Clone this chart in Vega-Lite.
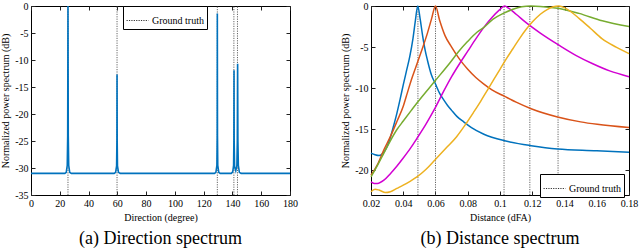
{
  "$schema": "https://vega.github.io/schema/vega-lite/v6.json",
  "padding": 0,
  "spacing": 42,
  "resolve": {"legend": {"strokeDash": "independent"}},
  "config": {
    "font": "Liberation Serif, Times New Roman, serif",
    "view": {"stroke": "black", "strokeWidth": 1},
    "axis": {"domain": false, "grid": false, "tickColor": "#222", "tickSize": -4, "labelPadding": 7, "labelFontSize": 10, "labelColor": "black", "labelFlush": false, "titleFontSize": 10, "titleFontWeight": "normal", "titleColor": "black", "labelFont": "Liberation Serif, Times New Roman, serif", "titleFont": "Liberation Serif, Times New Roman, serif", "labelExpr": "replace(datum.label, '\u2212', '-')"},
    "legend": {"labelFont": "Liberation Serif, Times New Roman, serif", "labelFontSize": 10, "labelColor": "black", "strokeColor": "black", "fillColor": "white", "padding": 3, "cornerRadius": 0, "symbolType": "stroke", "symbolSize": 480, "symbolStrokeWidth": 1, "symbolStrokeColor": "#333", "symbolOffset": 0, "labelOffset": 3},
    "title": {"font": "Liberation Serif, Times New Roman, serif"}
  },
  "datasets": {
    "dir": [
      {"deg": 0, "dB": -31}, {"deg": 23.5, "dB": -31}, {"deg": 24.5, "dB": -30.8}, {"deg": 25.2, "dB": -29.5}, {"deg": 25.5, "dB": -24}, {"deg": 25.7, "dB": 0}, {"deg": 25.9, "dB": -24}, {"deg": 26.2, "dB": -29.5}, {"deg": 26.9, "dB": -30.8}, {"deg": 28, "dB": -31},
      {"deg": 57.8, "dB": -31}, {"deg": 58.8, "dB": -30.8}, {"deg": 59.5, "dB": -29.6}, {"deg": 59.7, "dB": -25}, {"deg": 59.8, "dB": -12.7}, {"deg": 59.9, "dB": -25}, {"deg": 60.1, "dB": -29.6}, {"deg": 60.8, "dB": -30.8}, {"deg": 62, "dB": -31},
      {"deg": 127.5, "dB": -31}, {"deg": 128.5, "dB": -30.8}, {"deg": 129.2, "dB": -29.5}, {"deg": 129.4, "dB": -24}, {"deg": 129.5, "dB": -1.4}, {"deg": 129.6, "dB": -24}, {"deg": 129.8, "dB": -29.5}, {"deg": 130.5, "dB": -30.8}, {"deg": 131.5, "dB": -31},
      {"deg": 139.2, "dB": -31}, {"deg": 140.2, "dB": -30.7}, {"deg": 140.8, "dB": -29.5}, {"deg": 141.0, "dB": -25}, {"deg": 141.1, "dB": -11.9}, {"deg": 141.2, "dB": -25}, {"deg": 141.5, "dB": -29.8}, {"deg": 142.3, "dB": -30.5}, {"deg": 143.1, "dB": -29.5}, {"deg": 143.4, "dB": -25}, {"deg": 143.6, "dB": -10.7}, {"deg": 143.8, "dB": -25}, {"deg": 144.1, "dB": -29.5}, {"deg": 144.8, "dB": -30.8}, {"deg": 146, "dB": -31}, {"deg": 180, "dB": -31}
    ],
    "dirTruth": [
      {"deg": 25.7, "label": "Ground truth"}, {"deg": 59.8, "label": "Ground truth"}, {"deg": 129.5, "label": "Ground truth"}, {"deg": 141.0, "label": "Ground truth"}, {"deg": 143.5, "label": "Ground truth"}
    ],
    "distTruth": [
      {"d": 0.0491, "label": "Ground truth"}, {"d": 0.060, "label": "Ground truth"}, {"d": 0.1025, "label": "Ground truth"}, {"d": 0.1185, "label": "Ground truth"}, {"d": 0.136, "label": "Ground truth"}
    ],
    "dist": [
      {"s": "b", "d": 0.020, "dB": -17.9}, {"s": "b", "d": 0.0225, "dB": -18.1}, {"s": "b", "d": 0.025, "dB": -18.2}, {"s": "b", "d": 0.0275, "dB": -17.9}, {"s": "b", "d": 0.030, "dB": -17.1}, {"s": "b", "d": 0.032, "dB": -16.0}, {"s": "b", "d": 0.034, "dB": -14.6}, {"s": "b", "d": 0.036, "dB": -13.1}, {"s": "b", "d": 0.038, "dB": -11.4}, {"s": "b", "d": 0.040, "dB": -9.6}, {"s": "b", "d": 0.042, "dB": -7.9}, {"s": "b", "d": 0.044, "dB": -6.2}, {"s": "b", "d": 0.046, "dB": -4.0}, {"s": "b", "d": 0.0475, "dB": -1.8}, {"s": "b", "d": 0.049, "dB": 0}, {"s": "b", "d": 0.0505, "dB": -1.6}, {"s": "b", "d": 0.052, "dB": -3.6}, {"s": "b", "d": 0.0536, "dB": -5.4}, {"s": "b", "d": 0.055, "dB": -6.6}, {"s": "b", "d": 0.0575, "dB": -8.4}, {"s": "b", "d": 0.060, "dB": -9.5}, {"s": "b", "d": 0.0625, "dB": -10.6}, {"s": "b", "d": 0.065, "dB": -11.4}, {"s": "b", "d": 0.0675, "dB": -12.1}, {"s": "b", "d": 0.070, "dB": -12.7}, {"s": "b", "d": 0.0731, "dB": -13.4}, {"s": "b", "d": 0.0775, "dB": -14.1}, {"s": "b", "d": 0.0823, "dB": -14.8}, {"s": "b", "d": 0.090, "dB": -15.6}, {"s": "b", "d": 0.1029, "dB": -16.4}, {"s": "b", "d": 0.1193, "dB": -17.0}, {"s": "b", "d": 0.1357, "dB": -17.4}, {"s": "b", "d": 0.160, "dB": -17.6}, {"s": "b", "d": 0.180, "dB": -17.8},
      {"s": "o", "d": 0.020, "dB": -20.6}, {"s": "o", "d": 0.024, "dB": -19.3}, {"s": "o", "d": 0.028, "dB": -17.5}, {"s": "o", "d": 0.032, "dB": -15.9}, {"s": "o", "d": 0.0362, "dB": -14.0}, {"s": "o", "d": 0.040, "dB": -12.2}, {"s": "o", "d": 0.0425, "dB": -10.6}, {"s": "o", "d": 0.045, "dB": -9.0}, {"s": "o", "d": 0.0475, "dB": -7.6}, {"s": "o", "d": 0.050, "dB": -6.2}, {"s": "o", "d": 0.0525, "dB": -4.8}, {"s": "o", "d": 0.055, "dB": -3.3}, {"s": "o", "d": 0.0575, "dB": -1.6}, {"s": "o", "d": 0.060, "dB": 0}, {"s": "o", "d": 0.0625, "dB": -1.7}, {"s": "o", "d": 0.0659, "dB": -3.6}, {"s": "o", "d": 0.070, "dB": -5.0}, {"s": "o", "d": 0.075, "dB": -6.5}, {"s": "o", "d": 0.080, "dB": -7.7}, {"s": "o", "d": 0.085, "dB": -8.7}, {"s": "o", "d": 0.090, "dB": -9.5}, {"s": "o", "d": 0.095, "dB": -10.2}, {"s": "o", "d": 0.1029, "dB": -11.0}, {"s": "o", "d": 0.110, "dB": -11.7}, {"s": "o", "d": 0.1193, "dB": -12.5}, {"s": "o", "d": 0.1357, "dB": -13.5}, {"s": "o", "d": 0.150, "dB": -14.1}, {"s": "o", "d": 0.1603, "dB": -14.4}, {"s": "o", "d": 0.180, "dB": -14.8},
      {"s": "m", "d": 0.020, "dB": -21.4}, {"s": "m", "d": 0.022, "dB": -21.6}, {"s": "m", "d": 0.024, "dB": -21.6}, {"s": "m", "d": 0.028, "dB": -21.2}, {"s": "m", "d": 0.032, "dB": -20.4}, {"s": "m", "d": 0.036, "dB": -19.5}, {"s": "m", "d": 0.040, "dB": -18.5}, {"s": "m", "d": 0.0445, "dB": -17.3}, {"s": "m", "d": 0.0485, "dB": -16.1}, {"s": "m", "d": 0.054, "dB": -14.4}, {"s": "m", "d": 0.0598, "dB": -12.4}, {"s": "m", "d": 0.065, "dB": -10.4}, {"s": "m", "d": 0.070, "dB": -8.6}, {"s": "m", "d": 0.075, "dB": -7.0}, {"s": "m", "d": 0.080, "dB": -5.5}, {"s": "m", "d": 0.085, "dB": -4.0}, {"s": "m", "d": 0.090, "dB": -2.6}, {"s": "m", "d": 0.095, "dB": -1.4}, {"s": "m", "d": 0.0995, "dB": -0.5}, {"s": "m", "d": 0.1029, "dB": 0}, {"s": "m", "d": 0.1055, "dB": -0.3}, {"s": "m", "d": 0.110, "dB": -1.0}, {"s": "m", "d": 0.116, "dB": -2.0}, {"s": "m", "d": 0.125, "dB": -3.3}, {"s": "m", "d": 0.1368, "dB": -4.8}, {"s": "m", "d": 0.147, "dB": -6.0}, {"s": "m", "d": 0.1572, "dB": -7.0}, {"s": "m", "d": 0.168, "dB": -7.9}, {"s": "m", "d": 0.180, "dB": -8.6},
      {"s": "g", "d": 0.020, "dB": -20.8}, {"s": "g", "d": 0.024, "dB": -19.4}, {"s": "g", "d": 0.028, "dB": -17.9}, {"s": "g", "d": 0.032, "dB": -16.4}, {"s": "g", "d": 0.0362, "dB": -15.0}, {"s": "g", "d": 0.040, "dB": -14.0}, {"s": "g", "d": 0.045, "dB": -12.7}, {"s": "g", "d": 0.0485, "dB": -11.8}, {"s": "g", "d": 0.0598, "dB": -9.1}, {"s": "g", "d": 0.069, "dB": -6.9}, {"s": "g", "d": 0.0741, "dB": -5.6}, {"s": "g", "d": 0.080, "dB": -4.3}, {"s": "g", "d": 0.0857, "dB": -3.2}, {"s": "g", "d": 0.090, "dB": -2.6}, {"s": "g", "d": 0.0957, "dB": -1.6}, {"s": "g", "d": 0.102, "dB": -0.9}, {"s": "g", "d": 0.108, "dB": -0.4}, {"s": "g", "d": 0.1135, "dB": -0.1}, {"s": "g", "d": 0.119, "dB": 0}, {"s": "g", "d": 0.125, "dB": -0.05}, {"s": "g", "d": 0.1368, "dB": -0.3}, {"s": "g", "d": 0.149, "dB": -0.9}, {"s": "g", "d": 0.1634, "dB": -1.8}, {"s": "g", "d": 0.180, "dB": -2.5},
      {"s": "y", "d": 0.020, "dB": -22.6}, {"s": "y", "d": 0.0225, "dB": -22.3}, {"s": "y", "d": 0.025, "dB": -22.4}, {"s": "y", "d": 0.029, "dB": -22.7}, {"s": "y", "d": 0.032, "dB": -22.6}, {"s": "y", "d": 0.036, "dB": -22.2}, {"s": "y", "d": 0.040, "dB": -21.8}, {"s": "y", "d": 0.0445, "dB": -21.3}, {"s": "y", "d": 0.0485, "dB": -20.8}, {"s": "y", "d": 0.054, "dB": -19.9}, {"s": "y", "d": 0.0598, "dB": -18.7}, {"s": "y", "d": 0.067, "dB": -17.2}, {"s": "y", "d": 0.0731, "dB": -15.9}, {"s": "y", "d": 0.0783, "dB": -14.5}, {"s": "y", "d": 0.0834, "dB": -13.0}, {"s": "y", "d": 0.088, "dB": -11.6}, {"s": "y", "d": 0.092, "dB": -10.3}, {"s": "y", "d": 0.096, "dB": -9.0}, {"s": "y", "d": 0.100, "dB": -7.7}, {"s": "y", "d": 0.104, "dB": -6.4}, {"s": "y", "d": 0.108, "dB": -5.2}, {"s": "y", "d": 0.112, "dB": -4.0}, {"s": "y", "d": 0.116, "dB": -2.9}, {"s": "y", "d": 0.1203, "dB": -1.9}, {"s": "y", "d": 0.125, "dB": -1.0}, {"s": "y", "d": 0.1295, "dB": -0.4}, {"s": "y", "d": 0.133, "dB": -0.1}, {"s": "y", "d": 0.1365, "dB": 0}, {"s": "y", "d": 0.140, "dB": -0.2}, {"s": "y", "d": 0.144, "dB": -0.7}, {"s": "y", "d": 0.149, "dB": -1.5}, {"s": "y", "d": 0.156, "dB": -2.7}, {"s": "y", "d": 0.1634, "dB": -4.0}, {"s": "y", "d": 0.172, "dB": -5.0}, {"s": "y", "d": 0.180, "dB": -5.8}
    ]
  },
  "hconcat": [
    {
      "width": 259,
      "height": 189,
      "title": {"text": "(a) Direction spectrum", "orient": "bottom", "fontSize": 18, "fontWeight": "normal", "font": "Liberation Serif, Times New Roman, serif", "offset": 8, "anchor": "middle", "color": "black"},
      "layer": [
        {
          "data": {"name": "dirTruth"},
          "mark": {"type": "rule", "strokeWidth": 0.9, "color": "#555"},
          "encoding": {
            "x": {"field": "deg", "type": "quantitative", "scale": {"domain": [0, 180], "nice": false, "padding": 0}, "axis": {"orient": "top", "labels": false, "title": null, "values": [0, 20, 40, 60, 80, 100, 120, 140, 160, 180]}},
            "y": {"datum": -35, "type": "quantitative", "axis": {"orient": "right", "labels": false, "title": null, "values": [-35, -30, -25, -20, -15, -10, -5, 0]}},
            "y2": {"datum": 0},
            "strokeDash": {"field": "label", "type": "nominal", "scale": {"range": [[1.2, 1.2]]}, "legend": {"orient": "none", "legendX": 92, "legendY": 0, "title": null}}
          }
        },
        {
          "data": {"name": "dir"},
          "mark": {"type": "line", "color": "#0072BD", "strokeWidth": 1.6},
          "encoding": {
            "x": {"field": "deg", "type": "quantitative", "scale": {"domain": [0, 180], "nice": false, "padding": 0}, "axis": {"title": "Direction (degree)", "values": [0, 20, 40, 60, 80, 100, 120, 140, 160, 180]}},
            "y": {"field": "dB", "type": "quantitative", "scale": {"domain": [-35, 0], "nice": false, "padding": 0}, "axis": {"title": "Normalized power spectrum (dB)", "values": [-35, -30, -25, -20, -15, -10, -5, 0]}}
          }
        }
      ],
      "resolve": {"axis": {"x": "independent", "y": "independent"}}
    },
    {
      "width": 258,
      "height": 189,
      "title": {"text": "(b) Distance spectrum", "orient": "bottom", "fontSize": 18, "fontWeight": "normal", "font": "Liberation Serif, Times New Roman, serif", "offset": 8, "anchor": "middle", "color": "black"},
      "layer": [
        {
          "data": {"name": "distTruth"},
          "mark": {"type": "rule", "strokeWidth": 0.9, "color": "#555"},
          "encoding": {
            "x": {"field": "d", "type": "quantitative", "scale": {"domain": [0.02, 0.18], "nice": false, "padding": 0}, "axis": {"orient": "top", "labels": false, "title": null, "values": [0.02, 0.04, 0.06, 0.08, 0.1, 0.12, 0.14, 0.16, 0.18]}},
            "y": {"datum": -23, "type": "quantitative", "axis": {"orient": "right", "labels": false, "title": null, "values": [-20, -15, -10, -5, 0]}},
            "y2": {"datum": 0},
            "strokeDash": {"field": "label", "type": "nominal", "scale": {"range": [[1.2, 1.2]]}, "legend": {"orient": "none", "legendX": 169, "legendY": 168, "title": null}}
          }
        },
        {
          "data": {"name": "dist"},
          "mark": {"type": "line", "strokeWidth": 1.5, "interpolate": "monotone"},
          "encoding": {
            "x": {"field": "d", "type": "quantitative", "scale": {"domain": [0.02, 0.18], "nice": false, "padding": 0}, "axis": {"title": "Distance (dFA)", "format": ".2~f", "values": [0.02, 0.04, 0.06, 0.08, 0.1, 0.12, 0.14, 0.16, 0.18]}},
            "y": {"field": "dB", "type": "quantitative", "scale": {"domain": [-23, 0], "nice": false, "padding": 0}, "axis": {"title": "Normalized power spectrum (dB)", "values": [-20, -15, -10, -5, 0]}},
            "color": {"field": "s", "type": "nominal", "scale": {"domain": ["b", "o", "m", "g", "y"], "range": ["#0072BD", "#D95319", "#D200D2", "#77AC30", "#EDB120"]}, "legend": null}
          }
        }
      ],
      "resolve": {"axis": {"x": "independent", "y": "independent"}}
    }
  ]
}
